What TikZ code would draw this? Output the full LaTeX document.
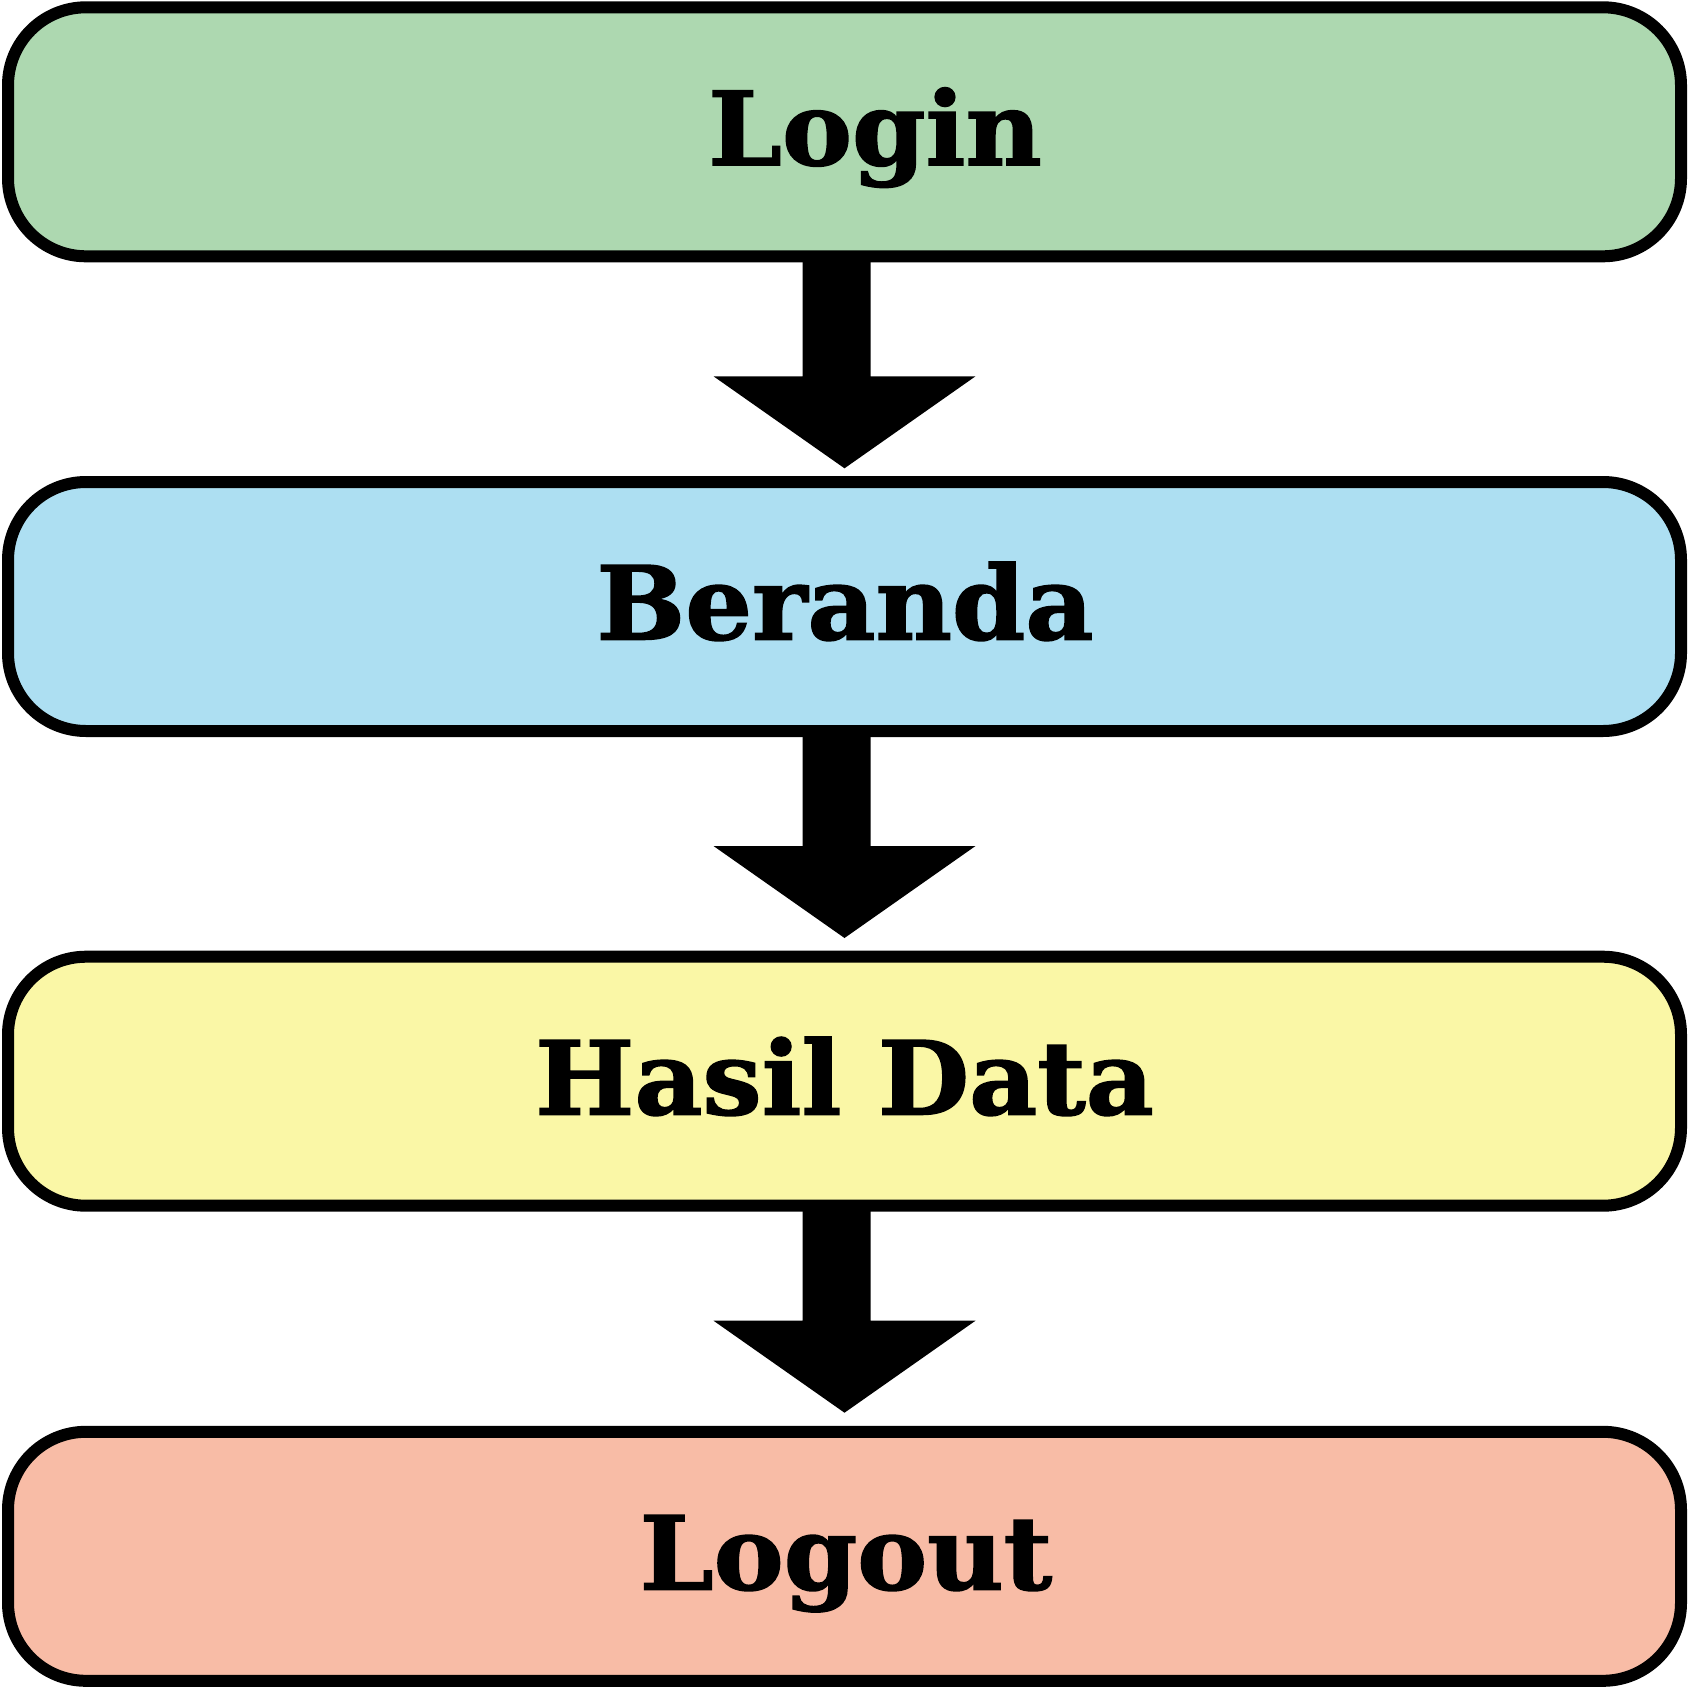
\documentclass[tikz,border=0pt]{standalone}
\usepackage{fontspec}
\setmainfont{DejaVu Serif}[BoldFeatures={FakeBold=1.5,FakeStretch=1.03}]
\definecolor{cgreen}{RGB}{173,216,176}
\definecolor{cblue}{RGB}{173,223,242}
\definecolor{cyellow}{RGB}{250,247,166}
\definecolor{csalmon}{RGB}{248,188,166}
\tikzset{
  stepbox/.style={draw=black, line width=12pt, rounded corners=78pt,
    minimum width=1673pt, minimum height=249pt, inner sep=0pt, outer sep=0pt, shape=rectangle},
  steplabel/.style={anchor=base, inner sep=0pt, font=\fontsize{102}{110}\selectfont\bfseries},
}
\newcommand\flowarrowdraw[2]{%
  \fill[black] (#1) ++(-42,0) -- ++(0,#2) -- ++(-89,0) -- ++(131,92)
    -- ++(131,-92) -- ++(-105,0) -- ++(0,-#2) -- cycle;}
\begin{document}
\begin{tikzpicture}[x=1pt,y=-1pt]
\useasboundingbox[fill=white] (0,0) rectangle (1689,1689);
\node[stepbox, fill=cgreen] (b1) at (844.5,131.8) {};
\node[stepbox, fill=cblue] (b2) at (844.5,606.5) {};
\node[stepbox, fill=cyellow] (b3) at (844.5,1081.2) {};
\node[stepbox, fill=csalmon] (b4) at (844.5,1556.3) {};
\node[steplabel] (t1) at (875,165) {Login};
\node[steplabel] (t2) at (845,639.5) {Beranda};
\node[steplabel] (t3) at (844.5,1114.5) {Hasil Data};
\node[steplabel] (t4) at (846,1589.5) {Logout};
\flowarrowdraw{b1.south}{120}
\flowarrowdraw{b2.south}{115}
\flowarrowdraw{b3.south}{115}
\end{tikzpicture}
\end{document}
